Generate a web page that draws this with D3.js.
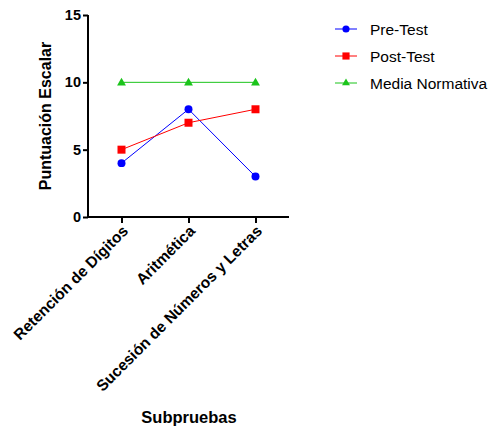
<!DOCTYPE html>
<html><head><meta charset="utf-8">
<script src="https://cdn.jsdelivr.net/npm/d3@7"></script>
<style>body{margin:0;background:#fff}svg{display:block}text{font-family:"Liberation Sans",Arial,sans-serif}</style>
</head><body>
<script>
const categories = ["Retención de Dígitos", "Aritmética", "Sucesión de Números y Letras"];
const preTest = [4, 8, 3];
const postTest = [5, 7, 8];
const mediaNormativa = [10, 10, 10];
const yTicks = [0, 5, 10, 15];
const seriesNames = ["Pre-Test", "Post-Test", "Media Normativa"];
const seriesColors = ["#0000FF", "#FF0000", "#1BC41B"];
const seriesMarkers = ["circle", "square", "triangle"];

const W = 497, H = 427;
const svg = d3.select("body").append("svg").attr("width", W).attr("height", H);
const x = d3.scalePoint().domain(categories).range([88, 289]).padding(0.5);
const y = d3.scaleLinear().domain([0, 15]).range([217, 15]);

const gy = svg.append("g").attr("transform", "translate(88,0)")
  .call(d3.axisLeft(y).tickValues(yTicks).tickSize(5).tickSizeOuter(0));
const gx = svg.append("g").attr("transform", "translate(0,217)")
  .call(d3.axisBottom(x).tickSize(6).tickSizeOuter(0));
[gy, gx].forEach(g => {
  g.select(".domain").attr("stroke", "#000").attr("stroke-width", 2);
  g.selectAll(".tick line").attr("stroke", "#000").attr("stroke-width", 2);
});
gy.selectAll(".tick text").attr("font-size", 14.5).attr("font-weight", "bold").attr("fill", "#000").attr("x", -7);
gx.selectAll(".tick text").attr("font-size", 15.5).attr("font-weight", "bold").attr("fill", "#000")
  .attr("text-anchor", "end").attr("dy", 0).attr("y", 0)
  .attr("transform", "translate(7,15) rotate(-45)");
gx.select(".domain").attr("d", "M87,0H289");
gy.select(".domain").attr("d", "M0,15V218");

const data = [preTest, postTest, mediaNormativa];
const symType = {circle: d3.symbolCircle, square: d3.symbolSquare, triangle: d3.symbolTriangle};
const symSize = {circle: 50, square: 64, triangle: 34};
const line = d3.line().x((d, i) => x(categories[i])).y(d => y(d));
data.forEach((vals, s) => {
  svg.append("path").attr("d", line(vals)).attr("fill", "none")
    .attr("stroke", seriesColors[s]).attr("stroke-width", 1);
  svg.selectAll(null).data(vals).enter().append("path")
    .attr("transform", (d, i) => `translate(${x(categories[i])},${y(d) + (seriesMarkers[s] === "triangle" ? 0.5 : 0)})`)
    .attr("d", d3.symbol().type(symType[seriesMarkers[s]]).size(symSize[seriesMarkers[s]]))
    .attr("fill", seriesColors[s]);
});

const leg = svg.append("g");
seriesNames.forEach((n, s) => {
  const ly = 29 + s * 27;
  leg.append("line").attr("x1", 335).attr("x2", 357).attr("y1", ly).attr("y2", ly)
    .attr("stroke", seriesColors[s]).attr("stroke-width", 1);
  leg.append("path").attr("transform", `translate(346,${ly})`)
    .attr("d", d3.symbol().type(symType[seriesMarkers[s]]).size(symSize[seriesMarkers[s]] * 0.8))
    .attr("fill", seriesColors[s]);
  leg.append("text").attr("x", 370).attr("y", ly + 5.5).attr("font-size", 15.5).attr("fill", "#000").text(n);
});

svg.append("text").attr("transform", "translate(51,116) rotate(-90)").attr("text-anchor", "middle")
  .attr("font-size", 16).attr("font-weight", "bold").text("Puntuación Escalar");
svg.append("text").attr("x", 189).attr("y", 423).attr("text-anchor", "middle")
  .attr("font-size", 16.5).attr("font-weight", "bold").text("Subpruebas");
</script>
</body></html>
